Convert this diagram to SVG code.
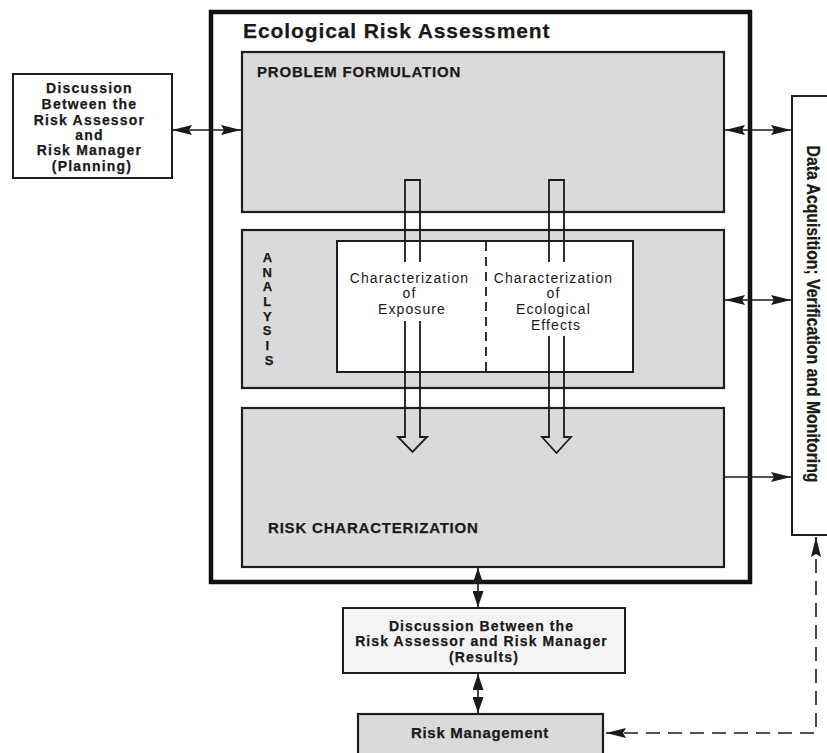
<svg xmlns="http://www.w3.org/2000/svg" width="827" height="753" viewBox="0 0 827 753">
<defs>
<style>
.shade{fill:#dadada;stroke:#1e1e1e;stroke-width:2.2}
.white{fill:#ffffff;stroke:#1e1e1e;stroke-width:2}
.b{font-family:"Liberation Sans",Arial,sans-serif;font-weight:bold;fill:#1a1a1a;stroke:#1a1a1a;stroke-width:0.25}
.r{font-family:"Liberation Sans",Arial,sans-serif;fill:#1a1a1a}
.ln{stroke:#1a1a1a;stroke-width:1.6;fill:none}
.blk{stroke:#1a1a1a;stroke-width:1.8;fill:none}
</style>
<marker id="ah" viewBox="0 0 20 10" refX="20" refY="5" markerWidth="20" markerHeight="10" markerUnits="userSpaceOnUse" orient="auto-start-reverse">
<path d="M0,0 L20,5 L0,10 L3,5 z" fill="#1a1a1a"/>
</marker>
<marker id="ah2" viewBox="0 0 16 11" refX="16" refY="5.5" markerWidth="16" markerHeight="11" markerUnits="userSpaceOnUse" orient="auto-start-reverse">
<path d="M0,0 L16,5.5 L0,11 z" fill="#1a1a1a"/>
</marker>
</defs>
<rect width="827" height="753" fill="#ffffff"/>

<g id="planning">
<rect x="13" y="74" width="159" height="104" class="white"/>
<text class="b" font-size="14" letter-spacing="1.2" text-anchor="middle">
<tspan x="92" y="93">Discussion</tspan>
<tspan x="92" y="109">Between the</tspan>
<tspan x="92" y="125">Risk Assessor</tspan>
<tspan x="92" y="140">and</tspan>
<tspan x="92" y="155">Risk Manager</tspan>
<tspan x="92" y="171">(Planning)</tspan>
</text>
</g>

<g id="era">
<rect x="211" y="12" width="539" height="570" fill="none" stroke="#111" stroke-width="4.5"/>
<text class="b" x="243" y="38" font-size="21" letter-spacing="0.9">Ecological Risk Assessment</text>
</g>

<g id="problem-formulation">
<rect x="242" y="52" width="482" height="160" class="shade"/>
<text class="b" x="257" y="77" font-size="15" letter-spacing="0.8">PROBLEM FORMULATION</text>
</g>

<g id="analysis">
<rect x="242" y="230" width="482" height="158" class="shade"/>
<text class="b" font-size="13" text-anchor="middle">
<tspan x="269" y="262">A</tspan>
<tspan x="269" y="277">N</tspan>
<tspan x="269" y="291">A</tspan>
<tspan x="269" y="306">L</tspan>
<tspan x="269" y="321">Y</tspan>
<tspan x="269" y="335">S</tspan>
<tspan x="269" y="350">I</tspan>
<tspan x="269" y="365">S</tspan>
</text>
<rect x="337" y="241" width="296" height="131" class="white"/>
<line x1="486" y1="242" x2="486" y2="371" stroke="#1a1a1a" stroke-width="1.8" stroke-dasharray="9,6"/>
</g>

<g id="exposure">
<text class="r" font-size="14" letter-spacing="1.1" text-anchor="middle">
<tspan x="412" y="283">Characterization</tspan>
<tspan x="412" y="298">of</tspan>
<tspan x="412" y="314">Exposure</tspan>
</text>
</g>

<g id="effects">
<text class="r" font-size="14" letter-spacing="1.1" text-anchor="middle">
<tspan x="556" y="283">Characterization</tspan>
<tspan x="556" y="298">of</tspan>
<tspan x="556" y="314">Ecological</tspan>
<tspan x="556" y="330">Effects</tspan>
</text>
</g>

<g id="risk-characterization">
<rect x="242" y="408" width="482" height="159" class="shade"/>
<text class="b" x="268" y="533" font-size="15" letter-spacing="0.8">RISK CHARACTERIZATION</text>
</g>

<g id="data-acquisition">
<rect x="792" y="96" width="50" height="439" fill="#ffffff" stroke="#1e1e1e" stroke-width="2"/>
<text class="b" font-size="18" text-anchor="middle" textLength="337" lengthAdjust="spacingAndGlyphs" transform="translate(807,314) rotate(90)">Data Acquisition; Verification and Monitoring</text>
</g>

<g id="results">
<rect x="343" y="608" width="282" height="65" fill="#f4f4f4" stroke="#1e1e1e" stroke-width="2"/>
<text class="b" font-size="14" letter-spacing="1.1" text-anchor="middle">
<tspan x="484" y="631">Discussion Between the</tspan>
<tspan x="484" y="646">Risk Assessor and Risk Manager</tspan>
<tspan x="484" y="662">(Results)</tspan>
</text>
</g>

<g id="risk-management">
<rect x="358" y="714" width="245" height="50" class="shade" stroke-width="2.6"/>
<text class="b" x="480" y="738" font-size="15" letter-spacing="0.7" text-anchor="middle">Risk Management</text>
</g>

<g id="connectors">
<line x1="172" y1="130" x2="241" y2="130" class="ln" marker-start="url(#ah)" marker-end="url(#ah)"/>
<line x1="725" y1="130" x2="791" y2="130" class="ln" marker-start="url(#ah)" marker-end="url(#ah)"/>
<line x1="725" y1="300" x2="791" y2="300" class="ln" marker-start="url(#ah)" marker-end="url(#ah)"/>
<line x1="724" y1="477" x2="791" y2="477" class="ln" marker-end="url(#ah)"/>
<line x1="478" y1="568" x2="478" y2="607" class="ln" marker-start="url(#ah2)" marker-end="url(#ah2)"/>
<line x1="478" y1="674" x2="478" y2="713" class="ln" marker-start="url(#ah2)" marker-end="url(#ah2)"/>
<path d="M816,537 L816,733 L606,733" fill="none" stroke="#1a1a1a" stroke-width="1.6" stroke-dasharray="14,8" marker-start="url(#ah)" marker-end="url(#ah)"/>
<g id="exposure-arrow">
<path d="M405,262 L405,180 L420,180 L420,262" class="blk"/>
<path d="M405,321 L405,437 L398,437 L412.5,452 L427,437 L420,437 L420,321" class="blk"/>
</g>
<g id="effects-arrow">
<path d="M549,262 L549,180 L564,180 L564,262" class="blk"/>
<path d="M549,336 L549,437 L542,437 L556.5,453 L571,437 L564,437 L564,336" class="blk"/>
</g>
</g>
</svg>
